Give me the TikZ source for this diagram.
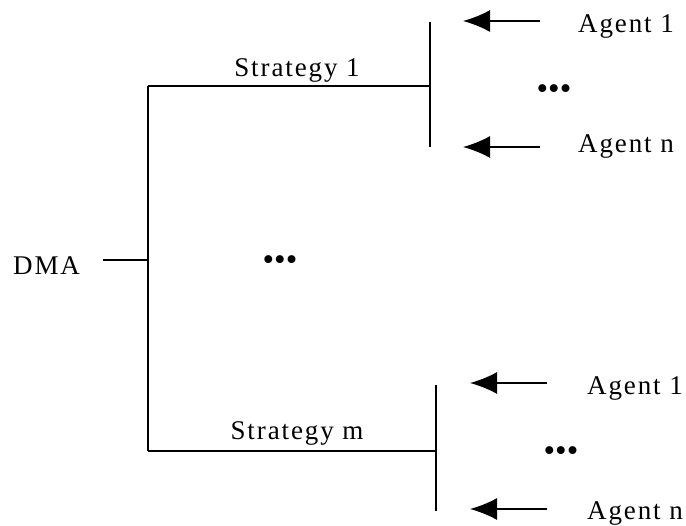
\documentclass[tikz,border=0pt]{standalone}
\usepackage{fontspec}
\setmainfont{Liberation Serif}
\usetikzlibrary{arrows.meta}
\begin{document}
\begin{tikzpicture}[x=1pt,y=-1pt,
  wire/.style={line width=1.6pt},
  arr/.style={line width=1.6pt,-{Latex[length=27pt,width=22pt]}},
  lbl/.style={font=\fontsize{27}{32}\selectfont\addfontfeatures{LetterSpace=7}, inner sep=0pt},
  dotrow/.style={font=\fontsize{33}{36}\selectfont, inner sep=0pt}]
\useasboundingbox (0,0) rectangle (686,526);
% labels
\node[lbl,anchor=base west] (dma) at (13,275) {DMA};
\node[lbl,anchor=base] (s1) at (297,77) {Strategy 1};
\node[lbl,anchor=base] (sm) at (297,440) {Strategy m};
\node[lbl,anchor=base west] (a11) at (578,33) {Agent 1};
\node[lbl,anchor=base west] (a1n) at (578,153) {Agent n};
\node[lbl,anchor=base west] (a21) at (587,395) {Agent 1};
\node[lbl,anchor=base west] (a2n) at (587,520) {Agent n};
\node[dotrow] (d1) at (554,92) {•••};
\node[dotrow] (d0) at (280,263) {•••};
\node[dotrow] (d2) at (561,454) {•••};
% tree coordinates
\coordinate (stub) at (103,260);
\coordinate (j) at (148,260);
\coordinate (t) at (148,86);
\coordinate (b) at (148,451);
\coordinate (t1) at (430,86);
\coordinate (b1) at (436,451);
\coordinate (tv1) at (430,22);
\coordinate (tv2) at (430,147);
\coordinate (bv1) at (436,385);
\coordinate (bv2) at (436,511);
% arrow coordinates
\coordinate (e11) at (540,21);  \coordinate (h11) at (463,21);
\coordinate (e1n) at (540,147); \coordinate (h1n) at (463,147);
\coordinate (e21) at (547,383); \coordinate (h21) at (470,383);
\coordinate (e2n) at (547,509); \coordinate (h2n) at (470,509);
% tree
\draw[wire] (stub) -- (j);
\draw[wire] (t) -- (b);
\draw[wire] (t) -- (t1);
\draw[wire] (b) -- (b1);
\draw[wire] (tv1) -- (tv2);
\draw[wire] (bv1) -- (bv2);
% arrows
\draw[arr] (e11) -- (h11);
\draw[arr] (e1n) -- (h1n);
\draw[arr] (e21) -- (h21);
\draw[arr] (e2n) -- (h2n);
\end{tikzpicture}
\end{document}
